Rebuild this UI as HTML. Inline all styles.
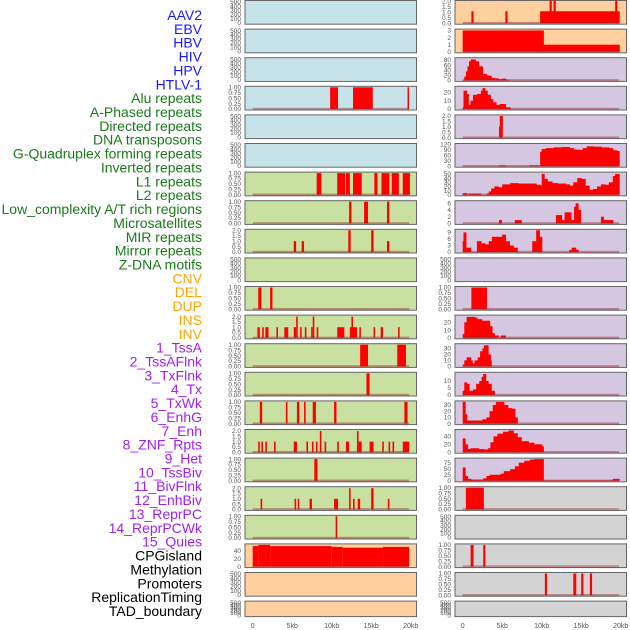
<!DOCTYPE html>
<html><head><meta charset="utf-8">
<style>
body{margin:0;background:#fff;}
svg{display:block;font-family:"Liberation Sans",sans-serif;}
</style></head>
<body>
<svg id="chart" width="630" height="630" viewBox="0 0 630 630" xmlns="http://www.w3.org/2000/svg"></svg>
<script>
const labels = ["AAV2","EBV","HBV","HIV","HPV","HTLV-1","Alu repeats","A-Phased repeats","Directed repeats","DNA transposons","G-Quadruplex forming repeats","Inverted repeats","L1 repeats","L2 repeats","Low_complexity A/T rich regions","Microsatellites","MIR repeats","Mirror repeats","Z-DNA motifs","CNV","DEL","DUP","INS","INV","1_TssA","2_TssAFlnk","3_TxFlnk","4_Tx","5_TxWk","6_EnhG","7_Enh","8_ZNF_Rpts","9_Het","10_TssBiv","11_BivFlnk","12_EnhBiv","13_ReprPC","14_ReprPCWk","15_Quies","CPGisland","Methylation","Promoters","ReplicationTiming","TAD_boundary"];
const labelColors = ["#1a1aff","#1a1aff","#1a1aff","#1a1aff","#1a1aff","#1a1aff","#1a7a1a","#1a7a1a","#1a7a1a","#1a7a1a","#1a7a1a","#1a7a1a","#1a7a1a","#1a7a1a","#1a7a1a","#1a7a1a","#1a7a1a","#1a7a1a","#1a7a1a","#ffa500","#ffa500","#ffa500","#ffa500","#ffa500","#a020f0","#a020f0","#a020f0","#a020f0","#a020f0","#a020f0","#a020f0","#a020f0","#a020f0","#a020f0","#a020f0","#a020f0","#a020f0","#a020f0","#a020f0","#000","#000","#000","#000","#000"];
const leftBg = ["lb","lb","lb","lb","lb","lb","gr","gr","gr","gr","gr","gr","gr","gr","gr","gr","gr","gr","gr","pe","pe","pe"];
const rightBg = ["pe","pe","lv","lv","lv","lv","lv","lv","lv","lv","lv","lv","lv","lv","lv","lv","lv","gy","gy","gy","gy","gy"];
const E = ["0","100","200","300","400","500"];
const B1 = ["0.00","0.25","0.50","0.75","1.00"];
const B2 = ["0.0","0.5","1.0","1.5","2.0"];
const leftTicks = [E,E,E,B1,E,E,B1,B1,B2,E,B1,B2,B1,B1,B1,B2,B1,B2,B1,["0","20","40"],E,E];
const leftMax = [500,500,500,1,500,500,1,1,2,500,1,2,1,1,1,2,1,2,1,55,500,500];
const rightTicks = [B2,["0","1","2","3"],["0","20","40","60","80"],["0","10","20"],B2,["0","30","60","90","120"],["0","10","20","30","40","50"],["0","2","4","6"],["0","3","6","9"],E,B1,["0","10","20"],["0","10","20","30"],["0","5","10"],["0","10","20","30"],["0","20","40"],["0","25","50","75"],B1,E,B1,B1,E];
const rightMax = [2,3,80,20,2,120,50,6,9,500,1,20,30,10,30,40,75,1,500,1,1,500];
const rightTop = [2,3.05,85,26,2,120,52,6.5,10,500,1,28,36,15.5,35,55,90,1,500,1,1,500];
const leftTopV = [500,500,500,1,500,500,1,1,2,500,1,2.05,1,1,1,2.05,1,2.05,1,55,500,500];
// left bars: [startKb, endKb, value]
const leftBars = [
 [],[],[],
 [[9.8,10.8,1],[12.7,15.2,1],[19.6,19.8,1]],
 [],[],
 [[8.1,8.7,1],[10.7,11.7,1],[11.8,12.3,1],[12.7,13.8,1],[15.4,15.8,1],[16.3,17.3,1],[17.6,18.5,1],[19.0,19.9,1]],
 [[12.2,12.5,1],[14.1,14.6,1],[17.0,17.3,1]],
 [[5.2,5.5,1],[6.2,6.5,1],[12.1,12.4,2],[15.0,15.3,2],[17.0,17.3,1]],
 [],
 [[0.7,1.1,1],[2.2,2.5,1]],
 [[0.6,0.9,1],[1.2,1.4,1],[1.6,2.0,1],[3.0,3.2,1],[4.0,4.5,1],[5.2,5.5,1],[5.5,5.7,2],[6.0,6.2,1],[6.6,6.8,1],[7.4,7.6,1],[7.6,7.8,2],[8.1,8.3,1],[10.7,11.6,1],[12.3,12.5,1],[12.5,12.7,2],[12.7,13.2,1],[13.5,13.7,1],[15.3,15.5,1],[16.2,16.5,1],[18.4,18.6,1]],
 [[13.6,14.6,1],[18.3,19.4,1]],
 [[14.4,14.8,1]],
 [[0.9,1.2,1],[4.2,4.4,1],[5.6,5.9,1],[6.5,6.7,1],[7.6,8.0,1],[10.3,10.6,1],[19.2,19.6,1]],
 [[0.7,0.9,1],[1.1,1.3,1],[1.6,1.8,1],[2.7,2.9,1],[5.2,5.6,1],[6.8,7.0,1],[7.5,7.7,1],[8.0,8.2,1],[8.5,8.7,2],[9.1,9.3,1],[10.7,10.9,1],[11.8,12.2,1],[13.2,13.4,2],[13.4,13.8,1],[14.8,15.3,1],[16.4,16.6,1],[17.2,17.4,1],[17.7,17.9,1],[19.0,19.8,1]],
 [[7.8,8.2,1]],
 [[1.0,1.2,1],[5.3,5.5,1],[5.7,5.9,1],[7.2,7.5,1],[10.3,10.8,1],[12.2,12.4,2],[12.7,12.9,1],[13.3,13.6,1],[15.0,15.3,2],[17.1,17.3,1]],
 [[10.5,10.7,1]],
 [[0,0.7,52],[0.7,2.2,55],[2.2,10,52],[10,11.4,50],[11.4,16.5,48],[16.5,19.8,50]],
 [],[]
];
// right profiles: step points [kb, value], each step lasts to next point
const rightProfiles = [
 [[1.1,1.1],[1.3,0],[5.4,1.1],[5.6,0],[9.8,1.1],[11,2.1],[11.2,1.1],[11.5,2.1],[11.7,1.1],[19.3,2.1],[19.5,1.1],[19.8,0]],
 [[0,3],[10.2,1],[19.8,0]],
 [[0,2],[0.2,15],[0.4,35],[0.6,55],[0.8,75],[1,82],[1.6,75],[2,55],[2.5,25],[3,20],[3.3,18],[3.6,10],[4,8],[4.5,5],[5,7],[5.4,3],[5.8,0]],
 [[0,2],[0.1,22],[0.5,18],[0.7,5],[1,10],[1.3,17],[1.8,18],[2.3,22],[2.5,25],[2.8,22],[3.1,17],[3.5,12],[3.8,8],[4.2,5],[4.7,6],[5.4,2],[6,0]],
 [[4.6,1],[4.7,2],[5.0,0]],
 [[4.6,4],[5.4,0],[8.4,4],[9.6,0],[9.8,80],[10,95],[10.5,100],[11.5,104],[12.5,106],[13.5,100],[14,92],[14.7,90],[15.2,100],[15.7,110],[16.5,108],[17.5,104],[18.5,100],[19,88],[19.5,84],[19.8,0]],
 [[0,4],[0.5,0],[0.7,3],[2.3,0],[3.0,3],[3.3,8],[3.6,15],[4,20],[4.5,18],[5,25],[6,28],[7,27],[9.3,24],[9.8,22],[10,50],[10.3,38],[10.7,32],[11.3,28],[12,27],[13,25],[13.5,22],[14,30],[14.5,40],[15,38],[15.5,22],[16,12],[16.5,14],[17,20],[17.5,25],[18,24],[18.5,30],[19,45],[19.3,50],[19.8,0]],
 [[4.6,1],[4.9,0],[6.6,1],[7.4,0],[11.8,2.5],[12.5,1],[12.9,3.3],[13.7,1],[14.1,5],[14.3,6],[14.6,4],[14.9,0],[17.5,2],[17.8,1],[19.0,0]],
 [[0,5],[0.1,9],[0.4,2],[1.0,0],[1.8,5],[2.3,4],[2.8,3.5],[3.3,5],[3.7,7],[4.3,7],[5,8],[5.4,5],[5.9,3],[6.4,2],[6.9,0],[8.8,5],[9.3,10],[9.7,7],[10.0,0],[13.5,1],[13.8,2],[14.3,1],[14.6,0]],
 [],
 [[1.1,1],[3.0,0]],
 [[0,5],[0.2,20],[0.5,27],[1.5,26],[1.8,24],[2.4,22],[3.2,22],[3.4,15],[3.7,6],[4.0,3],[4.5,0],[4.8,3],[5.4,0]],
 [[0,3],[0.2,10],[0.5,15],[1.0,10],[1.2,5],[1.5,10],[1.9,15],[2.2,25],[2.5,30],[2.7,35],[3.2,20],[3.5,10],[3.6,0]],
 [[0,3],[0.2,9],[0.5,8],[0.8,3],[1.3,4],[1.7,8],[2.1,10],[2.4,13],[2.6,15],[2.9,10],[3.2,8],[3.6,3],[4.0,0]],
 [[0,35],[0.3,15],[0.5,5],[2.5,7],[3.0,10],[3.4,20],[3.8,30],[4.2,35],[5.2,30],[5.7,25],[6.2,24],[6.6,10],[6.9,0]],
 [[0,35],[0.3,20],[0.6,8],[1.0,10],[2.0,8],[2.6,7],[3.2,10],[3.5,25],[3.9,40],[4.4,47],[5.1,52],[5.8,55],[6.4,48],[6.9,38],[7.4,28],[8.3,24],[9.0,20],[10,15],[10.2,0]],
 [[0,55],[0.3,20],[0.6,8],[1,5],[2.6,10],[3.0,20],[3.4,25],[4.8,30],[5.2,40],[6.0,48],[6.6,60],[7.1,75],[7.8,83],[8.5,88],[9,90],[10.2,2],[19.0,8],[19.8,0]],
 [[0.4,1],[2.6,0]],
 [],
 [[1.0,1],[1.3,0],[2.6,1],[2.8,0]],
 [[10.4,1],[10.6,0],[14.0,1],[14.3,0],[15.0,1],[15.2,0],[16.1,1],[16.3,0]],
 []
];
const xTicks = [0,5,10,15,20];
const xTickLabels = ["0","5kb","10kb","15kb","20kb"];

const NS = "http://www.w3.org/2000/svg";
const svg = document.getElementById('chart');
const colors = {lb:"#c6e3ea",gr:"#c8e0a0",pe:"#ffcf9e",lv:"#d5c6e2",gy:"#d3d3d3"};
function mk(tag, attrs, parent){const e=document.createElementNS(NS,tag);for(const k in attrs)e.setAttribute(k,attrs[k]);(parent||svg).appendChild(e);return e;}
const PITCH = 28.6;
const cols = [{x0:245,x1:416.5,zero:252.7},{x0:455,x1:626.5,zero:462.7}];
const kbPx = 7.9;
function xScale(col,kb){return cols[col].zero + kb*kbPx;}
function rowTop(i){return i*PITCH;}
function rowH(i){return i===21?16.5:24.7;}
function yScale(i,v,top){const b=rowTop(i)+rowH(i)-1.5;return b - v/top*(rowH(i)-3);}

labels.forEach((t,k)=>{
  const el=mk('text',{x:202,y:15+k*13.86+5,'text-anchor':'end','font-size':'14px',fill:labelColors[k]});
  el.textContent=t;
  
  
});

function drawPanel(i,col){
  const g=mk('g',{});
  
  
  const c=cols[col], top=rowTop(i), h=rowH(i);
  mk('rect',{x:c.x0,y:top+0.5,width:c.x1-c.x0,height:h-1,fill:colors[col?rightBg[i]:leftBg[i]],stroke:'#666','stroke-width':1},g);
  const ticks = col?rightTicks[i]:leftTicks[i];
  const ytop = col?rightTop[i]:leftTopV[i];
  const empty = (col?rightProfiles[i]:leftBars[i]).length===0;
  ticks.forEach((t,k)=>{
    const v=parseFloat(t);
    const y=empty? (top+h-2 - (k/(ticks.length-1))*(h-4)) : yScale(i,v,ytop);
    const te=mk('text',{x:c.x0-4,y:y+2.2,'text-anchor':'end','font-size':'6.5px',fill:'#555'},g);
    te.textContent=t;
    
    
  });
  if(empty) return;
  const base=yScale(i,0,ytop);
  if(col===0){
    leftBars[i].forEach(b=>{
      const y=yScale(i,b[2],ytop);
      const r=mk('rect',{x:xScale(0,b[0]),y:y,width:Math.max(1,(b[1]-b[0])*kbPx),height:base-y,fill:'#ff0000'},g);
      
      
    });
  } else {
    const p=rightProfiles[i];
    for(let k=0;k<p.length-1;k++){
      if(p[k][1]<=0) continue;
      const y=yScale(i,p[k][1],ytop);
      const r=mk('rect',{x:xScale(1,p[k][0]),y:y,width:Math.max(1,(p[k+1][0]-p[k][0])*kbPx+0.6),height:base-y,fill:'#ff0000'},g);
      
      
    }
  }
  const bl=mk('rect',{x:xScale(col,0),y:base-1.2,width:19.8*kbPx,height:2,fill:'rgba(150,40,40,0.45)'},g);
  
  
}
for(let i=0;i<22;i++){drawPanel(i,0);drawPanel(i,1);}
[0,1].forEach(col=>{
  xTicks.forEach((v,k)=>{
    const t=mk('text',{x:xScale(col,v),y:628,'text-anchor':'middle','font-size':'7px',fill:'#555'});
    t.textContent=xTickLabels[k];
    
    
  });
});
</script>
</body></html>
